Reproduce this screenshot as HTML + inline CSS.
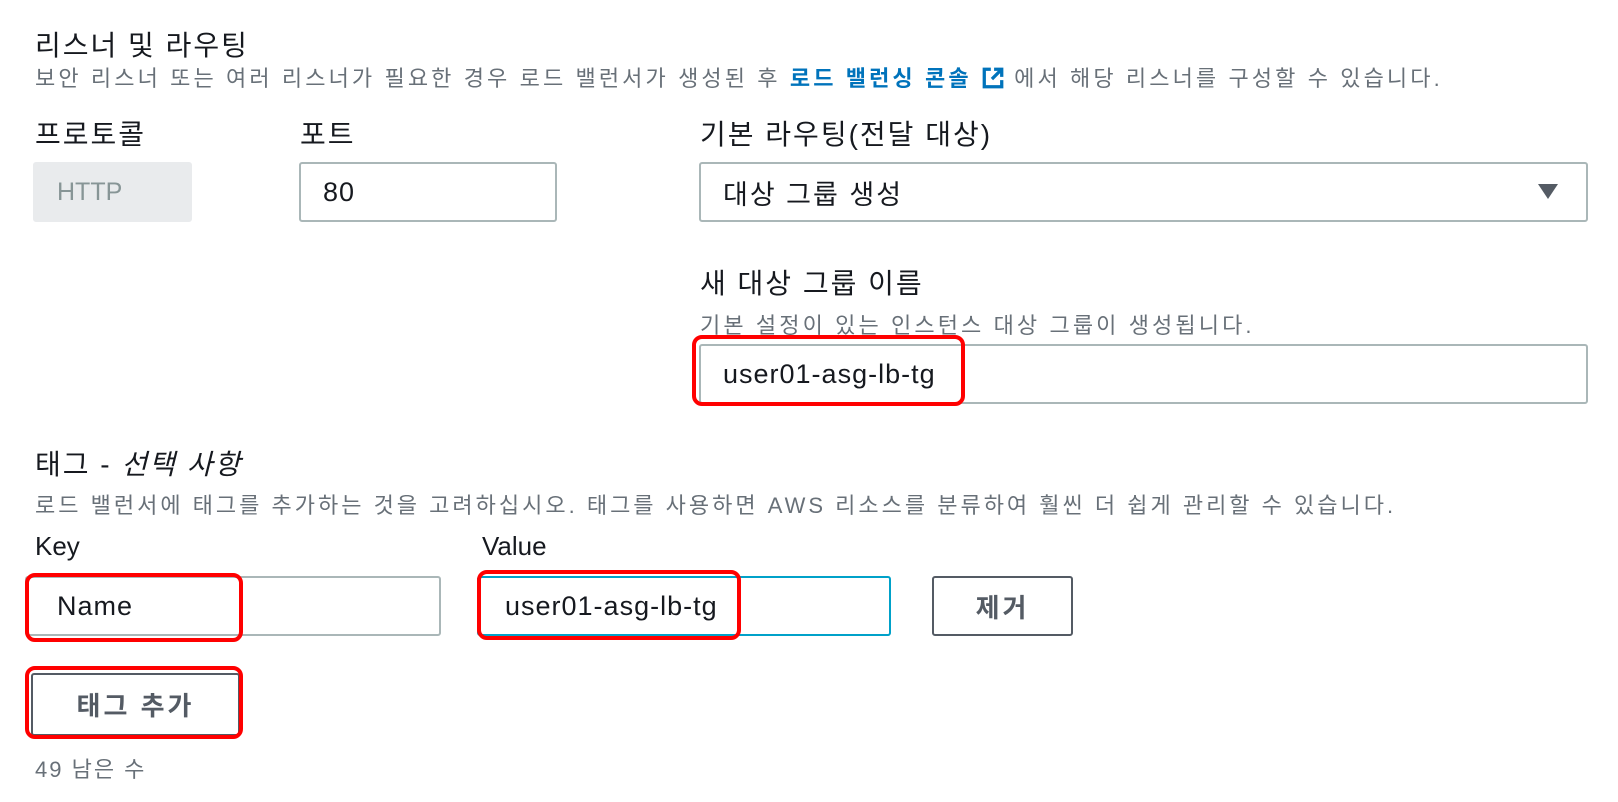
<!DOCTYPE html>
<html><head><meta charset="utf-8"><style>
body{margin:0;width:1618px;height:802px;background:#fff;position:relative;overflow:hidden;font-family:"Liberation Sans","Noto Sans CJK KR",sans-serif;color:#16191f}
.a{position:absolute;white-space:nowrap}
.t{font-size:28px;letter-spacing:2px}
.s{font-size:22px;color:#687078;letter-spacing:3.1px}
.box{position:absolute;box-sizing:border-box;border:2px solid #aab7b8;border-radius:3px;background:#fff;font-size:27px;letter-spacing:1px;display:flex;align-items:center;padding-left:22px}
.red{position:absolute;box-sizing:border-box;border:4px solid #f00;border-radius:10px}
.btn{position:absolute;box-sizing:border-box;border:2px solid #545b64;border-radius:3px;background:#fff;font-size:26px;letter-spacing:3px;font-weight:bold;color:#545b64;display:flex;align-items:center;justify-content:center}
</style></head><body>
<div class="a t" style="left:35px;top:24px">리스너 및 라우팅</div>
<div class="a s" style="left:35px;top:61px">보안 리스너 또는 여러 리스너가 필요한 경우 로드 밸런서가 생성된 후 <b style="color:#0073bb">로드 밸런싱 콘솔</b> <svg width="24" height="24" viewBox="0 0 22 22" style="vertical-align:-4px"><path d="M9 3H3v16h16v-6" fill="none" stroke="#0073bb" stroke-width="3"/><path d="M12 3h7v7M19 3l-9 9" fill="none" stroke="#0073bb" stroke-width="3"/></svg> 에서 해당 리스너를 구성할 수 있습니다.</div>
<div class="a t" style="left:35px;top:113px">프로토콜</div>
<div class="a t" style="left:300px;top:113px">포트</div>
<div class="a t" style="left:700px;top:113px">기본 라우팅(전달 대상)</div>
<div class="box" style="left:33px;top:162px;width:159px;height:60px;background:#e9ebed;border-color:#e9ebed;color:#879596;font-size:25px;letter-spacing:0">HTTP</div>
<div class="box" style="left:299px;top:162px;width:258px;height:60px">80</div>
<div class="box" style="left:699px;top:162px;width:889px;height:60px;letter-spacing:2px">대상 그룹 생성<span style="position:absolute;right:28px;top:20px;width:0;height:0;border-left:10px solid transparent;border-right:10px solid transparent;border-top:15px solid #545b64"></span></div>
<div class="a t" style="left:700px;top:262px">새 대상 그룹 이름</div>
<div class="a s" style="left:700px;top:308px">기본 설정이 있는 인스턴스 대상 그룹이 생성됩니다.</div>
<div class="box" style="left:699px;top:344px;width:889px;height:60px">user01-asg-lb-tg</div>
<div class="red" style="left:692px;top:335px;width:273px;height:71px"></div>
<div class="a t" style="left:35px;top:443px">태그 - <i>선택 사항</i></div>
<div class="a s" style="left:35px;top:488px;letter-spacing:3px">로드 밸런서에 태그를 추가하는 것을 고려하십시오. 태그를 사용하면 AWS 리소스를 분류하여 훨씬 더 쉽게 관리할 수 있습니다.</div>
<div class="a" style="left:35px;top:531px;font-size:26px">Key</div>
<div class="a" style="left:482px;top:531px;font-size:26px">Value</div>
<div class="box" style="left:25px;top:576px;width:416px;height:60px;padding-left:30px">Name</div>
<div class="red" style="left:25px;top:573px;width:218px;height:69px"></div>
<div class="box" style="left:477px;top:576px;width:414px;height:60px;border-color:#00a1c9;padding-left:26px">user01-asg-lb-tg</div>
<div class="red" style="left:477px;top:570px;width:264px;height:70px"></div>
<div class="btn" style="left:932px;top:576px;width:141px;height:60px">제거</div>
<div class="btn" style="left:31px;top:673px;width:209px;height:63px">태그 추가</div>
<div class="red" style="left:25px;top:666px;width:218px;height:73px"></div>
<div class="a s" style="left:35px;top:752px;letter-spacing:2px">49 남은 수</div>
</body></html>
